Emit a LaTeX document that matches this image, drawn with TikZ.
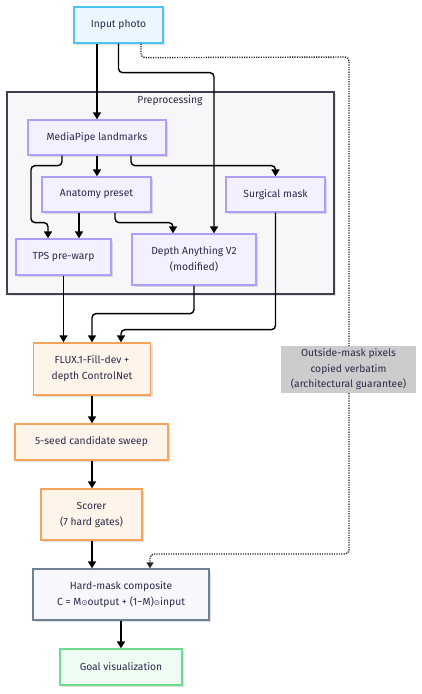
\documentclass[tikz,border=0pt]{standalone}
\usepackage{fontspec}
\setmainfont{Fira Sans}
\newfontfamily\symfont{DejaVu Sans}
\usetikzlibrary{arrows.meta,shadows,calc}
\definecolor{txt}{HTML}{2B2B4B}
\definecolor{inF}{HTML}{EBF7FE}\definecolor{inB}{HTML}{4DC4F0}
\definecolor{clF}{HTML}{F7F7FA}\definecolor{clB}{HTML}{40404F}
\definecolor{puF}{HTML}{F3F0FF}\definecolor{puB}{HTML}{B39DFA}
\definecolor{orF}{HTML}{FFF4EA}\definecolor{orB}{HTML}{F5A55A}
\definecolor{hmF}{HTML}{F6F8FB}\definecolor{hmB}{HTML}{6E7F96}
\definecolor{glF}{HTML}{EFFCF3}\definecolor{glB}{HTML}{6EDC8E}
\definecolor{lbF}{HTML}{CCCCCC}
\tikzset{
  box/.style={draw, line width=1.3pt, align=center, text=txt, font=\fontsize{10.3}{16}\selectfont, inner sep=0pt,
    drop shadow={shadow xshift=2pt, shadow yshift=-2pt, opacity=0.12, fill=black}},
  inbox/.style={box, fill=inF, draw=inB},
  pubox/.style={box, fill=puF, draw=puB},
  orbox/.style={box, fill=orF, draw=orB},
  hmbox/.style={box, fill=hmF, draw=hmB},
  glbox/.style={box, fill=glF, draw=glB},
  arr/.style={-{Triangle[length=7pt,width=8pt]}, line width=1.4pt, draw=black, rounded corners=4pt},
  dotarr/.style={-{Triangle[length=6pt,width=7pt]}, line width=1.4pt, dash pattern=on 1.2pt off 1.2pt, draw=black!85, rounded corners=4pt},
}
\begin{document}
\begin{tikzpicture}[x=1pt,y=-1pt]
\useasboundingbox (0,0) rectangle (422,694);
% cluster
\node[draw=clB, fill=clF, line width=1.5pt, minimum width=327pt, minimum height=202pt, inner sep=0pt,
  drop shadow={shadow xshift=2pt, shadow yshift=-2pt, opacity=0.1, fill=black}] (pre) at (170.5,193) {};
\node[text=txt, font=\fontsize{10.3}{12}\selectfont] (pret) at (170,101) {Preprocessing};
% nodes
\node[inbox, minimum width=89pt, minimum height=36pt] (in) at (118.5,25) {Input photo};
\node[pubox, minimum width=138pt, minimum height=35pt] (mp) at (97,137.5) {MediaPipe landmarks};
\node[pubox, minimum width=109pt, minimum height=35pt] (an) at (96.5,194.5) {Anatomy preset};
\node[pubox, minimum width=99pt, minimum height=35pt] (sm) at (275.5,194.5) {Surgical mask};
\node[pubox, minimum width=95pt, minimum height=36pt] (tps) at (63.5,257) {TPS pre-warp};
\node[pubox, minimum width=124pt, minimum height=51pt] (dp) at (194,259.5) {Depth Anything V2\\(modified)};
\node[orbox, minimum width=117pt, minimum height=52pt] (fl) at (92,369) {FLUX.1-Fill-dev +\\depth ControlNet};
\node[orbox, minimum width=153pt, minimum height=36pt] (sd) at (91.5,442) {5-seed candidate sweep};
\node[orbox, minimum width=101pt, minimum height=51pt] (sc) at (91.5,514.5) {Scorer\\(7 hard gates)};
\node[hmbox, minimum width=176pt, minimum height=51pt] (hm) at (121,594.5) {Hard-mask composite\\C = M{\symfont\fontsize{7.5}{9}\selectfont ⊙}output + (1−M){\symfont\fontsize{7.5}{9}\selectfont ⊙}input};
\node[glbox, minimum width=122pt, minimum height=36pt] (gl) at (121,667) {Goal visualization};
% dotted bypass
\coordinate (d1) at (349,57);
\coordinate (d2) at (349,554);
\draw[dotarr] ([xshift=22.5pt]in.south) -- ++(0,14) -- (d1) -- (d2) -| ([xshift=29pt]hm.north);
\node[fill=lbF, text=txt, align=center, inner sep=0pt, minimum width=135pt, minimum height=47pt,
  font=\fontsize{10.3}{15.5}\selectfont] (lb) at (348.5,369.5) {Outside-mask pixels\\copied verbatim\\(architectural guarantee)};
% edges
\draw[arr, line width=1.9pt] ([xshift=-21.5pt]in.south) -- (mp.north);
\draw[arr] (in.south) -- ++(0,29) -| ([xshift=20pt]dp.north);
\draw[arr] (mp.south) -- (mp.south |- an.north);
\draw[arr] ([xshift=-35pt]mp.south) -- ++(0,10) -- ++(-31,0) -- ++(0,57) -- ++(17,0) -- ([xshift=-15.5pt]tps.north);
\draw[arr] ([xshift=34pt]mp.south) -- ++(0,10) -| (sm.north);
\draw[arr] ([xshift=-17.5pt]an.south) -- ([xshift=-17.5pt]an.south |- tps.north);
\draw[arr] ([xshift=18.5pt]an.south) -- ++(0,10) -| ([xshift=-21pt]dp.north);
\draw[arr] (tps.south) -- (tps.south |- fl.north);
\draw[arr] (dp.south) -- ++(0,28) -| (fl.north);
\draw[arr] (sm.south) -- ++(0,117) -| ([xshift=29pt]fl.north);
\draw[arr] (fl.south) -- (fl.south |- sd.north);
\draw[arr] (fl.south |- sd.south) -- (fl.south |- sc.north);
\draw[arr] (fl.south |- sc.south) -- ([xshift=-29pt]hm.north);
\draw[arr] (hm.south) -- (gl.north);
\end{tikzpicture}
\end{document}
